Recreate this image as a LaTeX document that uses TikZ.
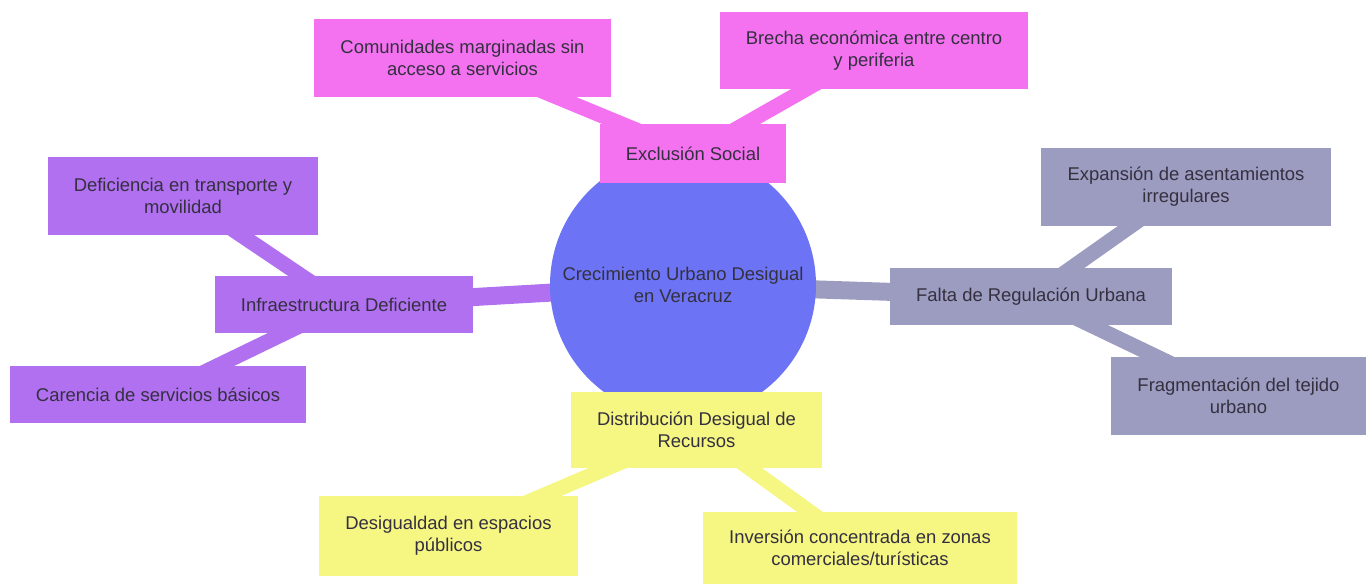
\documentclass[tikz,border=0pt]{standalone}
\usepackage{fontspec}
\setmainfont{Liberation Sans}
\usetikzlibrary{backgrounds}
\definecolor{rootblue}{RGB}{108,116,245}
\definecolor{pinkbox}{RGB}{244,114,240}
\definecolor{purplebox}{RGB}{176,112,240}
\definecolor{greybox}{RGB}{156,156,192}
\definecolor{yellowbox}{RGB}{246,246,130}
\definecolor{textgray}{RGB}{52,48,64}

\begin{document}
\begin{tikzpicture}[
    every node/.style={font=\fontsize{10.5}{12.5}\selectfont, text=textgray, align=center},
    box/.style={rectangle, inner sep=0pt},
    mainlink/.style={line width=0.36cm},
    sublink/.style={line width=0.30cm}
]
    \useasboundingbox (0,0) rectangle (27.32,-11.68);

    \node (Center) [circle, fill=rootblue, minimum size=5.32cm, inner sep=0pt] at (13.66,-5.70) {Crecimiento Urbano Desigual\\en Veracruz};

    \node (Excl) [box, fill=pinkbox, minimum width=3.72cm, minimum height=1.18cm] at (13.86,-3.07) {Exclusión Social};
    \node (Comun) [box, fill=pinkbox, minimum width=5.94cm, minimum height=1.56cm] at (9.25,-1.16) {Comunidades marginadas sin\\acceso a servicios};
    \node (Brecha) [box, fill=pinkbox, minimum width=6.16cm, minimum height=1.54cm] at (17.48,-1.01) {Brecha económica entre centro\\y periferia};

    \node (Infra) [box, fill=purplebox, minimum width=5.16cm, minimum height=1.14cm] at (6.88,-6.09) {Infraestructura Deficiente};
    \node (Defic) [box, fill=purplebox, minimum width=5.40cm, minimum height=1.56cm] at (3.66,-3.92) {Deficiencia en transporte y\\movilidad};
    \node (Caren) [box, fill=purplebox, minimum width=5.92cm, minimum height=1.14cm] at (3.16,-7.89) {Carencia de servicios básicos};

    \node (Falta) [box, fill=greybox, minimum width=5.64cm, minimum height=1.14cm] at (20.62,-5.93) {Falta de Regulación Urbana};
    \node (Expan) [box, fill=greybox, minimum width=5.80cm, minimum height=1.56cm] at (23.72,-3.74) {Expansión de asentamientos\\irregulares};
    \node (Fragm) [box, fill=greybox, minimum width=5.10cm, minimum height=1.56cm] at (24.77,-7.92) {Fragmentación del tejido\\urbano};

    \node (Distr) [box, fill=yellowbox, minimum width=5.02cm, minimum height=1.52cm] at (13.93,-8.60) {Distribución Desigual de\\Recursos};
    \node (Desig) [box, fill=yellowbox, minimum width=5.18cm, minimum height=1.60cm] at (8.97,-10.72) {Desigualdad en espacios\\públicos};
    \node (Inver) [box, fill=yellowbox, minimum width=6.28cm, minimum height=1.44cm] at (17.20,-10.96) {Inversión concentrada en zonas\\comerciales/turísticas};

    \begin{scope}[on background layer]
        \draw [mainlink, pinkbox] (Center.center) -- (Excl.center);
        \draw [sublink, pinkbox] (Excl.center) -- (Comun.center);
        \draw [sublink, pinkbox] (Excl.center) -- (Brecha.center);
        \draw [mainlink, purplebox] (Center.center) -- (Infra.center);
        \draw [sublink, purplebox] (Infra.center) -- (Defic.center);
        \draw [sublink, purplebox] (Infra.center) -- (Caren.center);
        \draw [mainlink, greybox] (Center.center) -- (Falta.center);
        \draw [sublink, greybox] (Falta.center) -- (Expan.center);
        \draw [sublink, greybox] (Falta.center) -- (Fragm.center);
        \draw [mainlink, yellowbox] (Center.center) -- (Distr.center);
        \draw [sublink, yellowbox] (Distr.center) -- (Desig.center);
        \draw [sublink, yellowbox] (Distr.center) -- (Inver.center);
    \end{scope}
\end{tikzpicture}
\end{document}
